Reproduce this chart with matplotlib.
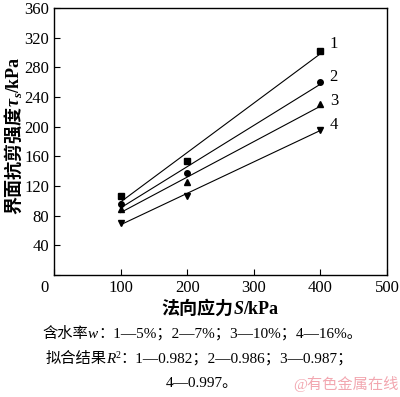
import numpy as np
import matplotlib.pyplot as plt

plt.rcParams['font.family'] = ['Liberation Serif', 'Noto Sans CJK SC']

stress = [100, 200, 400]
tau1 = [106, 154, 302]
tau2 = [96, 138, 260]
tau3 = [89, 125, 230]
tau4 = [70, 107, 196]
series = [tau1, tau2, tau3, tau4]
markers = ['s', 'o', '^', 'v']
names = ['1', '2', '3', '4']
name_y = [311, 267, 235, 202]

W, H = 400, 397
fig = plt.figure(figsize=(4, 3.97), dpi=100)
ax = fig.add_axes([0.135, 0.307, 0.8325, 0.673])


def rich_text(px, py, pieces, size, rotate=False, weight='normal', color='black'):
    # pieces: (text, style, size scale, baseline shift in px); centred on (px, py)
    r = fig.canvas.get_renderer()
    arts = []
    for s, style, scale, dy in pieces:
        t = fig.text(0, 0, s, fontsize=size * scale, style=style, weight=weight,
                     color=color, ha='left', va='baseline',
                     rotation=90 if rotate else 0, rotation_mode='anchor')
        arts.append((t, dy))
    lens = []
    for t, dy in arts:
        bb = t.get_window_extent(r)
        lens.append(bb.height if rotate else bb.width)
    pos = (py + sum(lens) / 2) if rotate else (px - sum(lens) / 2)
    for (t, dy), ln in zip(arts, lens):
        if rotate:
            t.set_position(((px + dy) / W, 1 - pos / H))
            pos -= ln
        else:
            t.set_position((pos / W, 1 - (py + dy) / H))
            pos += ln


for tau, mk, nm, ny in zip(series, markers, names, name_y):
    k, b = np.polyfit(stress, tau, 1)
    xs = np.array([100, 400])
    ax.plot(xs, k * xs + b, color='black', lw=0.8)
    ax.plot(stress, tau, linestyle='none', marker=mk, color='black', markersize=4)
    ax.text(414, ny, nm, fontsize=12, ha='left', va='center')

ax.set_xlim(0, 500)
ax.set_ylim(0, 360)
ax.set_xticks([0, 100, 200, 300, 400, 500])
ax.set_xticklabels(['', '100', '200', '300', '400', '500'])
ax.set_yticks(np.arange(0, 361, 40))
ax.set_yticklabels([''] + [str(v) for v in range(40, 361, 40)])
ax.tick_params(direction='in', labelsize=12, length=4, width=0.8)
ax.text(-8, -6, '0', fontsize=12, ha='right', va='top')
for s in ax.spines.values():
    s.set_linewidth(1.0)

# axis labels
rich_text(220, 314, [('法向应力', 'normal', 1, 0), ('S', 'italic', 1, 0), ('/kPa', 'normal', 1, 0)],
          13, weight='bold')
rich_text(19, 136, [('界面抗剪强度', 'normal', 1, 0), ('τ', 'italic', 1, 0),
                    ('s', 'italic', 0.7, 3), ('/kPa', 'normal', 1, 0)],
          13, rotate=True, weight='bold')

# caption
rich_text(202, 338, [('含水率', 'normal', 1, 0), ('w', 'italic', 1, 0),
                     ('：1—5%；2—7%；3—10%；4—16%。', 'normal', 1, 0)], 11)
rich_text(199, 363, [('拟合结果', 'normal', 1, 0), ('R', 'italic', 1, 0), ('2', 'normal', 0.65, -5),
                     ('：1—0.982；2—0.986；3—0.987；', 'normal', 1, 0)], 11)
rich_text(202, 387, [('4—0.997。', 'normal', 1, 0)], 11)
rich_text(346, 389, [('@有色金属在线', 'normal', 1, 0)], 11, color='#f2a7b0')

fig.savefig('out.png', dpi=100)
